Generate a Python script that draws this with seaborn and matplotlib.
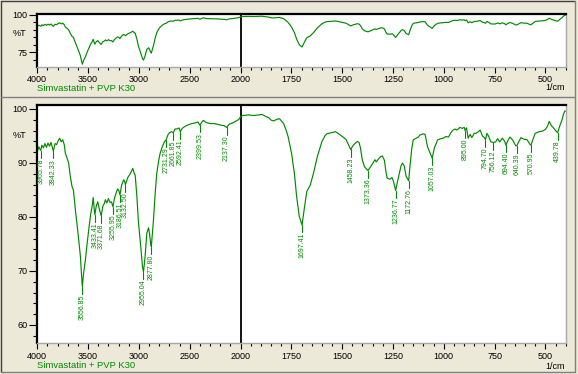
import numpy as np
import pandas as pd
import matplotlib
matplotlib.use("Agg")
import matplotlib.pyplot as plt
import matplotlib.transforms as mtransforms
from matplotlib.lines import Line2D
from matplotlib.ticker import FixedLocator, FixedFormatter
import seaborn as sns

# ---------------- data ----------------
wavenumber = [
    4000, 3985, 3975, 3965.78, 3955, 3940, 3925, 3910, 3895, 3880, 3865, 3842.33,
    3825, 3810, 3795, 3780, 3765, 3750, 3735, 3724, 3705, 3691, 3675, 3658, 3645,
    3625, 3608, 3592, 3575, 3566, 3556.85, 3545, 3527, 3510, 3494, 3475, 3461,
    3450, 3440, 3433.41, 3420, 3405, 3390, 3371.68, 3355, 3340, 3330, 3315, 3300,
    3285, 3270, 3255.95, 3240, 3225, 3210, 3198, 3186.51, 3170, 3150, 3140,
    3132.50, 3110, 3085, 3060, 3045, 3037, 3021, 3005, 2981, 2965, 2955.04, 2940,
    2922, 2905, 2895, 2884, 2877.80, 2865, 2857, 2840, 2824, 2805, 2791, 2770,
    2750, 2731.29, 2715, 2700, 2680, 2661.85, 2645, 2625, 2605, 2592.41, 2575,
    2545, 2510, 2479, 2450, 2420, 2399.53, 2380, 2365, 2340, 2300, 2260, 2234,
    2190, 2160, 2137.30, 2110, 2080, 2050, 2030, 2010, 2000,
    1990, 1960, 1936, 1910, 1895, 1880, 1862, 1848, 1837, 1820, 1808, 1795, 1788,
    1775, 1766, 1749, 1735, 1724, 1711, 1697.41, 1685, 1674, 1657, 1641, 1622,
    1600, 1585, 1575, 1555, 1534, 1520, 1510, 1495, 1480, 1458.23, 1445, 1437,
    1425, 1417, 1410, 1401, 1390, 1373.36, 1360, 1345, 1339, 1332, 1320, 1310,
    1302, 1292, 1285, 1279, 1265, 1255, 1249, 1236.77, 1228, 1220, 1210, 1203,
    1195, 1185, 1172.76, 1166, 1158, 1150, 1140, 1125, 1117, 1100, 1092, 1080,
    1057.03, 1046, 1030, 1015, 1002, 990, 977, 965, 957, 945, 936, 920, 910, 899,
    895.00, 888, 880, 870, 862, 850, 841, 830, 821, 810, 800, 794.70, 788, 780,
    768, 756.12, 745, 735, 725, 712, 700, 694.40, 684, 674, 660, 646, 640.39, 630,
    620, 605, 590, 575, 570.95, 560, 550, 530, 515, 500, 490, 481, 470, 460, 450,
    439.78, 428, 418, 412, 405, 400,
]
transmittance = [
    92.1, 93.0, 92.6, 92.3, 93.3, 92.8, 93.6, 92.9, 93.7, 93.1, 93.8, 92.2,
    93.6, 93.4, 94.1, 94.6, 93.9, 94.3, 93.4, 91.8, 90.8, 89.9, 87.5, 85.6, 85.0,
    81.3, 78.5, 75.7, 72.5, 69.6, 67.1, 69.5, 72.0, 75.0, 77.6, 80.5, 81.9,
    83.6, 81.5, 80.4, 82.0, 82.8, 81.5, 80.2, 82.0, 82.5, 83.2, 82.6, 83.4,
    82.7, 82.8, 81.9, 83.5, 84.4, 85.2, 84.9, 84.1, 85.9, 86.9, 86.5,
    86.0, 87.3, 88.0, 89.0, 88.0, 87.8, 84.1, 79.1, 74.3, 70.8, 69.8, 72.5,
    77.0, 78.0, 76.8, 75.0, 74.5, 77.5, 79.4, 84.4, 88.1, 90.5, 91.8, 93.0,
    93.9, 94.3, 95.2, 95.6, 95.8, 95.6, 96.3, 96.3, 96.5, 95.8, 96.4,
    96.8, 97.1, 97.3, 97.4, 97.6, 97.0, 97.6, 97.9, 97.5, 97.3, 97.3, 97.2,
    97.0, 96.9, 96.6, 97.2, 97.4, 97.7, 97.9, 98.2, 98.6,
    98.8, 98.9, 98.8, 98.9, 99.0, 98.7, 98.4, 97.9, 97.8, 98.1, 98.2, 97.6, 97.3,
    96.0, 94.9, 91.8, 88.1, 83.8, 80.1, 78.5, 81.9, 84.7, 85.9, 88.1, 91.2,
    93.9, 95.0, 95.4, 95.6, 95.8, 95.5, 95.2, 94.8, 94.3, 92.5, 93.3, 93.6,
    94.0, 93.8, 92.8, 90.6, 89.3, 88.6, 89.3, 90.2, 90.6, 90.2, 90.8, 91.2,
    91.3, 90.5, 88.5, 87.2, 87.0, 87.3, 86.8, 84.9, 86.5, 87.8, 89.5, 90.0,
    89.5, 87.5, 86.7, 89.5, 92.5, 94.3, 94.5, 94.8, 95.2, 95.4, 95.3, 93.0,
    90.9, 92.8, 94.3, 94.5, 94.6, 94.9, 94.8, 95.6, 96.0, 96.3, 96.1, 96.6, 96.4, 96.6,
    96.0, 96.5, 94.6, 95.3, 94.7, 95.5, 95.5, 95.8, 96.1, 95.0, 94.7, 94.3, 95.5, 95.0,
    93.9, 93.8, 93.9, 94.5, 93.9, 94.6, 94.0, 93.3, 94.2, 94.8, 94.2, 93.2, 93.2, 94.0,
    94.7, 94.4, 94.3, 93.4, 93.3, 94.5, 95.5, 95.8, 95.9, 96.2, 96.8, 97.7, 96.9, 96.5, 96.0,
    95.6, 97.0, 98.0, 98.9, 99.6, 99.6,
]
peak_wavenumbers = [
    3965.78, 3842.33, 3556.85, 3433.41, 3371.68, 3255.95, 3186.51, 3132.50,
    2955.04, 2877.80, 2731.29, 2661.85, 2592.41, 2399.53, 2137.30, 1697.41,
    1458.23, 1373.36, 1236.77, 1172.76, 1057.03, 895.00, 794.70, 756.12,
    694.40, 640.39, 570.95, 439.78,
]
peak_labels = [f"{p:.2f}" for p in peak_wavenumbers]
sample_name = "Simvastatin + PVP K30"
x_major = [4000, 3500, 3000, 2500, 2000, 1750, 1500, 1250, 1000, 750, 500]
x_major_labels = ["4000", "3500", "3000", "2500", "2000", "1750", "1500",
                  "1250", "1000", "750", "500"]
x_minor = list(range(3900, 2000, -100)) + list(range(1950, 399, -50))
top_y_major = [75, 100]
top_y_minor = [70, 80, 85, 90, 95]
bot_y_major = [60, 70, 80, 90, 100]
bot_y_minor = [58, 62, 64, 66, 68, 72, 74, 76, 78, 82, 84, 86, 88, 92, 94, 96, 98]

df = pd.DataFrame({"wavenumber": wavenumber, "T": transmittance})

# ---------------- style ----------------
sns.set_theme(style="white")
plt.rcParams["font.family"] = ["Liberation Sans", "DejaVu Sans"]

BG = "#ECE9D8"
GREEN = "#008A00"
W, H = 578, 374

fig = plt.figure(figsize=(W / 100, H / 100), dpi=100, facecolor=BG)


def rect(l, t, r, b):
    return [l / W, 1 - b / H, (r - l) / W, (b - t) / H]


ax_top = fig.add_axes(rect(37.3, 13.7, 565.7, 66.5))
ax_bot = fig.add_axes(rect(37.3, 105, 565.7, 343.3))


def fwd(x):
    x = np.asarray(x, dtype=float)
    return np.where(x >= 2000, x, 2 * x - 2000)


def inv(y):
    y = np.asarray(y, dtype=float)
    return np.where(y >= 2000, y, (y + 2000) / 2)


def style_axes(ax, ylim, ymaj, ymin, pct_y, name_y, unit_y):
    sns.lineplot(data=df, x="wavenumber", y="T", ax=ax, sort=False,
                 estimator=None, color=GREEN, lw=0.85)
    ax.set_xscale("function", functions=(fwd, inv))
    ax.set_xlim(4000, 400)
    ax.set_ylim(*ylim)
    ax.set_facecolor("white")
    ax.set_xlabel("")
    ax.set_ylabel("")
    ax.axvline(2000, color="black", lw=1.3, zorder=1)

    ax.xaxis.set_major_locator(FixedLocator(x_major))
    ax.xaxis.set_major_formatter(FixedFormatter(x_major_labels))
    ax.xaxis.set_minor_locator(FixedLocator(x_minor))
    ax.yaxis.set_major_locator(FixedLocator(ymaj))
    ax.yaxis.set_minor_locator(FixedLocator(ymin))

    ax.tick_params(axis="x", which="major", bottom=True, direction="out",
                   length=4.2, width=0.8, pad=2.0, labelsize=6.5, colors="black")
    ax.tick_params(axis="x", which="minor", bottom=True, direction="out",
                   length=2.0, width=0.8, colors="black")
    ax.tick_params(axis="y", which="major", left=True, direction="out",
                   length=6.0, width=0.8, pad=1.2, labelsize=6.5, colors="black")
    ax.tick_params(axis="y", which="minor", left=True, direction="out",
                   length=3.0, width=0.8, colors="black")

    for side in ("top", "left"):
        ax.spines[side].set_color("black")
        ax.spines[side].set_linewidth(1.6)
    for side in ("bottom", "right"):
        ax.spines[side].set_color("#A8A8A8")
        ax.spines[side].set_linewidth(1.0)

    blend = mtransforms.blended_transform_factory(ax.transAxes, ax.transData)
    ax.text(-0.020, pct_y, "%T", transform=blend, ha="right", va="center",
            fontsize=6.5, color="black")
    ax.text(0.0, name_y, sample_name, transform=ax.transAxes, ha="left",
            va="center", fontsize=6.8, color=GREEN)
    ax.text(0.979, unit_y, "1/cm", transform=ax.transAxes,
            ha="center", va="center", fontsize=6.5, color="black")


style_axes(ax_top, (65.56, 100.66), top_y_major, top_y_minor, 87.8, -0.415, -0.40)
style_axes(ax_bot, (56.6, 100.74), bot_y_major, bot_y_minor, 95.1, -0.092, -0.097)

# peak markers and labels on the lower panel
wn_asc = np.array(wavenumber)[::-1]
t_asc = np.array(transmittance)[::-1]
for p, lab in zip(peak_wavenumbers, peak_labels):
    t = float(np.interp(p, wn_asc, t_asc))
    ax_bot.plot([p, p], [t, t - 1.35], color=GREEN, lw=0.8)
    ax_bot.text(p, t - 1.45, lab, rotation=90, ha="center", va="top",
                fontsize=5, color=GREEN)

# window-frame decoration
def fline(x0, y0, x1, y1, color, lw=1.0):
    fig.add_artist(Line2D([x0 / W, x1 / W], [1 - y0 / H, 1 - y1 / H],
                          transform=fig.transFigure, color=color, lw=lw))

fline(1, 1, 575, 1, "#404040")
fline(1, 1, 1, 372, "#404040")
fline(575, 1, 575, 372, "#808080")
fline(1, 97, 575, 97, "#808080")
fline(1, 372, 575, 372, "#808080")

fig.savefig("out.png", dpi=100, facecolor=BG)
